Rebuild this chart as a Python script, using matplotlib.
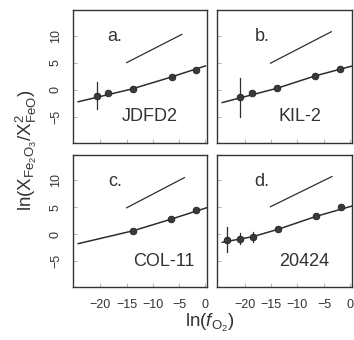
import matplotlib
matplotlib.use("Agg")
import matplotlib.pyplot as plt

plt.rcParams['font.family'] = ['Liberation Sans', 'DejaVu Sans']
plt.rcParams['mathtext.fontset'] = 'custom'
plt.rcParams['mathtext.rm'] = 'Liberation Sans'
plt.rcParams['mathtext.it'] = 'Liberation Sans:italic'

# ---- data ----
panel_letters = ["a.", "b.", "c.", "d."]
sample_names = ["JDFD2", "KIL-2", "COL-11", "20424"]

pts_x = [
    [-20.6, -18.5, -13.8, -6.4, -1.7],
    [-20.8, -18.5, -13.8, -6.7, -1.9],
    [-13.7, -6.5, -1.75],
    [-23.3, -20.8, -18.4, -13.7, -6.5, -1.75],
]
pts_y = [
    [-1.1, -0.6, 0.2, 2.4, 3.7],
    [-1.35, -0.6, 0.3, 2.6, 3.9],
    [0.6, 2.8, 4.4],
    [-1.0, -0.8, -0.5, 0.95, 3.4, 5.0],
]
pts_err = [
    [2.5, 0, 0, 0, 0],
    [3.6, 0, 0, 0, 0],
    [0, 0, 0],
    [2.3, 0.95, 0.95, 0, 0, 0],
]
fit_x = [
    [-24.2, -14.0, -7.0, 0.0],
    [-24.2, -13.8, -6.7, 0.2],
    [-24.2, -13.7, -6.5, 0.2],
    [-24.2, -18.4, -13.7, -6.5, 0.2],
]
fit_y = [
    [-2.2, 0.15, 2.2, 4.4],
    [-2.35, 0.3, 2.55, 4.35],
    [-1.75, 0.65, 2.8, 4.9],
    [-1.5, -0.45, 0.9, 3.3, 5.2],
]
ref_x = [
    [-15.0, -4.5],
    [-15.1, -3.6],
    [-15.0, -4.0],
    [-15.1, -3.5],
]
ref_y = [
    [5.0, 10.2],
    [4.9, 10.7],
    [4.9, 10.5],
    [5.1, 10.7],
]
label_pos_x = [-18.7, -18.1, -18.5, -18.1]
name_pos_x = [-10.6, -9.5, -7.9, -8.7]

xticks = [-20, -15, -10, -5, 0]
yticks = [-5, 0, 5, 10]

W, H = 354, 340
fig = plt.figure(figsize=(W / 100, H / 100), dpi=100)

boxes = [
    (73, 10, 134, 133),
    (217, 10, 135, 133),
    (73, 155, 134, 132),
    (217, 155, 135, 132),
]
dark = '#2e2e2e'
for i, (l, t, w, h) in enumerate(boxes):
    ax = fig.add_axes([l / W, 1 - (t + h) / H, w / W, h / H])
    ax.set_xlim(-25.2, 0.3)
    ax.set_ylim(-9.8, 14.7)
    ax.plot(fit_x[i], fit_y[i], color=dark, lw=1.1)
    ax.plot(ref_x[i], ref_y[i], color=dark, lw=0.9)
    for x, y, e in zip(pts_x[i], pts_y[i], pts_err[i]):
        if e > 0:
            ax.plot([x, x], [y - e, y + e], color=dark, lw=0.9)
    ax.plot(pts_x[i], pts_y[i], 'o', color='#3a3a3a', mec='#222222',
            ms=4.8, mew=0.6, zorder=3)
    ax.text(label_pos_x[i], 9.8, panel_letters[i], fontsize=13, color='#333333',
            ha='left', va='center')
    ax.text(name_pos_x[i], -5.0, sample_names[i], fontsize=13, color='#333333',
            ha='center', va='center')
    ax.set_xticks(xticks)
    ax.set_yticks(yticks)
    ax.tick_params(direction='in', length=3, width=0.5, colors='#999999',
                   labelcolor='#333333', labelsize=9)
    ax.tick_params(axis='x', pad=9)
    ax.tick_params(axis='y', pad=8)
    for s in ax.spines.values():
        s.set_color('#333333')
        s.set_linewidth(1.0)
    if i in (0, 2):
        for lab in ax.get_yticklabels():
            lab.set_rotation(90)
            lab.set_va('center')
    else:
        ax.set_yticklabels([])
    if i in (2, 3):
        ax.set_xticklabels([str(v).replace('-', '\u2212') if v != 0 else '0' for v in xticks])
    else:
        ax.set_xticklabels([])

fig.text(26 / W, 1 - 150 / H, r'$\mathregular{ln(X_{Fe_2O_3}/X^2_{FeO})}$',
         rotation=90, ha='center', va='center', fontsize=13.5, color='#333333')
fig.text(210 / W, 1 - 323 / H, r'ln($\mathit{f}_{\mathregular{O_2}}$)',
         ha='center', va='center', fontsize=13.5, color='#333333')

fig.savefig('out.png', dpi=100, facecolor='white')
